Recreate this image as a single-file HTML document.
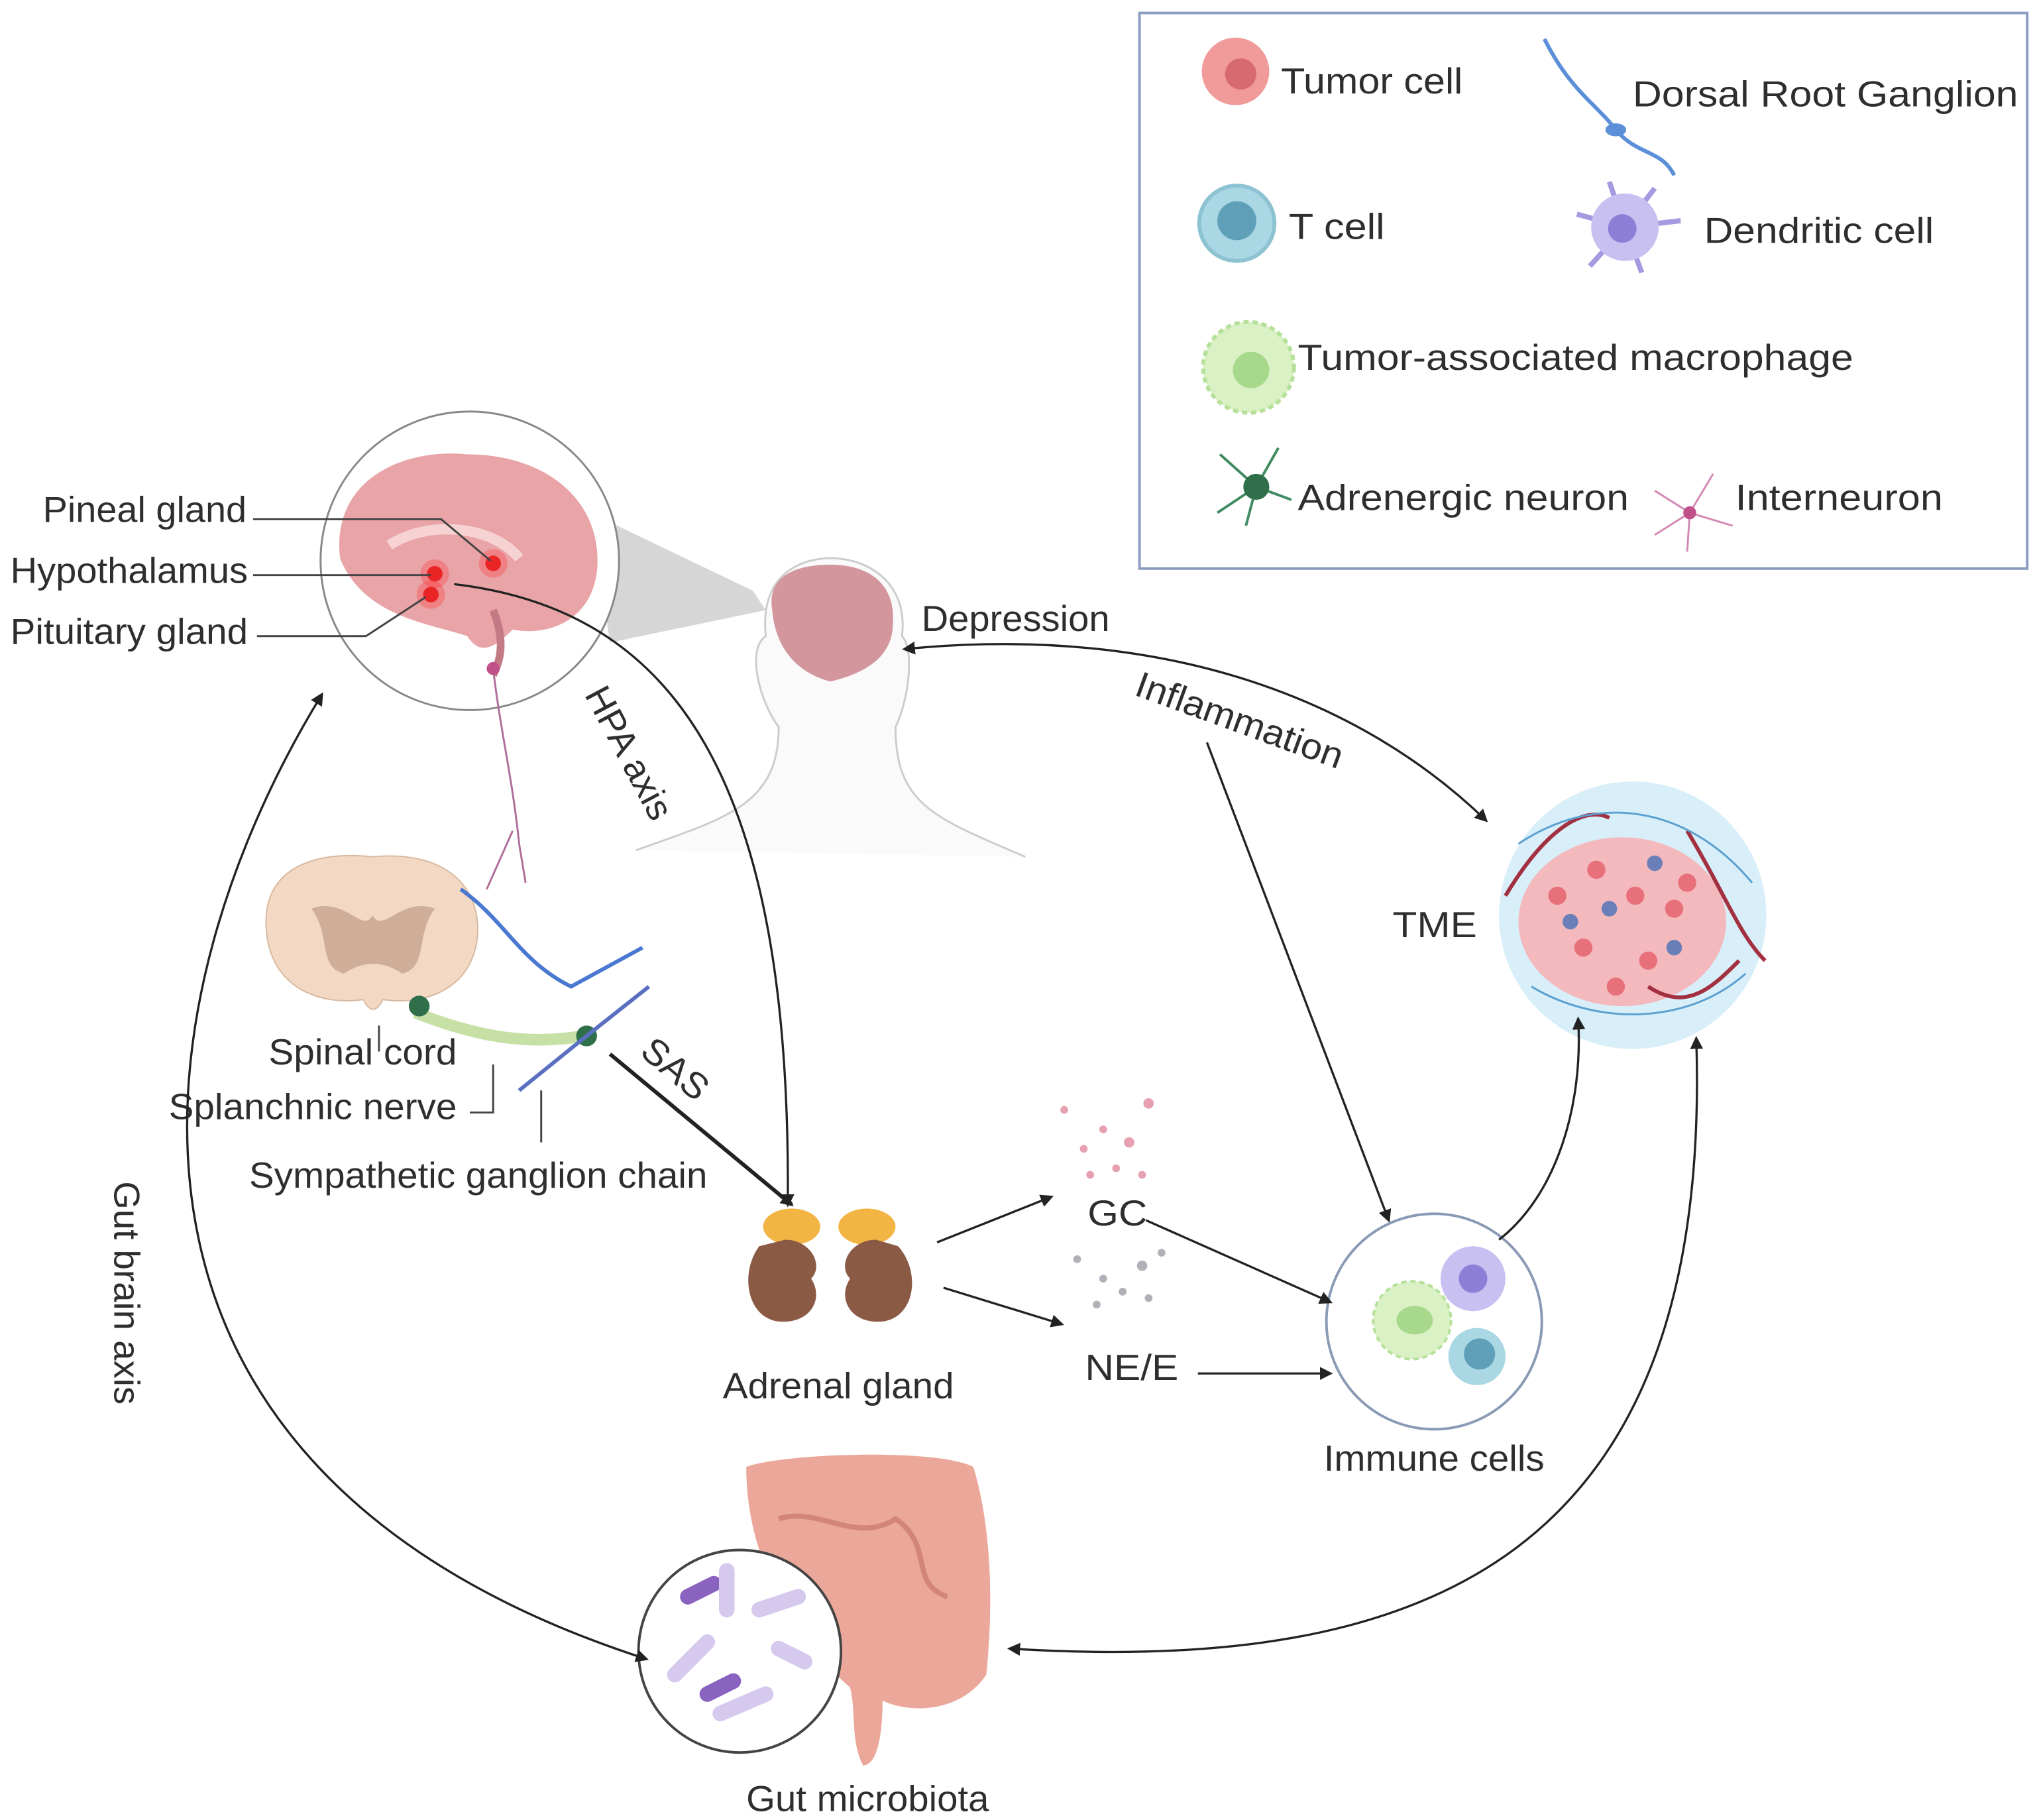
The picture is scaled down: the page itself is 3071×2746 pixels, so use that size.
<!DOCTYPE html>
<html><head><meta charset="utf-8"><style>
html,body{margin:0;padding:0;background:#fff;}
svg{display:block;}
text{font-family:"Liberation Sans",sans-serif;fill:#2e2e2e;font-size:28px;}
</style></head><body>
<svg width="3071" height="2746" viewBox="0 0 1568 1402" preserveAspectRatio="none" xmlns="http://www.w3.org/2000/svg">
<defs>
<marker id="ah" markerWidth="10" markerHeight="10" refX="8" refY="5" orient="auto" markerUnits="userSpaceOnUse"><path d="M0,0 L10,5 L0,10 z" fill="#222"/></marker>
<marker id="ahs" markerWidth="10" markerHeight="10" refX="2" refY="5" orient="auto" markerUnits="userSpaceOnUse"><path d="M10,0 L0,5 L10,10 z" fill="#222"/></marker>
</defs>
<rect width="1568" height="1402" fill="#fff"/>
<!-- legend -->
<rect x="878" y="10" width="684" height="428" fill="#fff" stroke="#8c9dc2" stroke-width="2"/>
<circle cx="952" cy="55" r="26" fill="#f19a9a"/><circle cx="956" cy="57" r="12" fill="#d76a70"/>
<text x="987" y="72" textLength="140" lengthAdjust="spacingAndGlyphs">Tumor cell</text>
<path d="M1190 30 C1210 70 1230 80 1245 100 C1262 120 1280 115 1290 135" stroke="#5b8fd8" stroke-width="3" fill="none"/>
<ellipse cx="1245" cy="100" rx="8" ry="5" fill="#5b8fd8"/>
<text x="1258" y="82" textLength="297" lengthAdjust="spacingAndGlyphs">Dorsal Root Ganglion</text>
<circle cx="953" cy="172" r="29" fill="#a9d7e4" stroke="#8cc2d2" stroke-width="3"/><circle cx="953" cy="170" r="15" fill="#5f9fb8"/>
<text x="993" y="184" textLength="74" lengthAdjust="spacingAndGlyphs">T cell</text>
<g stroke="#a59ae0" stroke-width="4"><line x1="1252" y1="175" x2="1215" y2="165"/><line x1="1252" y1="175" x2="1240" y2="140"/><line x1="1252" y1="175" x2="1275" y2="145"/><line x1="1252" y1="175" x2="1295" y2="170"/><line x1="1252" y1="175" x2="1265" y2="210"/><line x1="1252" y1="175" x2="1225" y2="205"/></g>
<circle cx="1252" cy="175" r="26" fill="#c9c0f2"/><circle cx="1250" cy="176" r="11" fill="#8d7fd8"/>
<text x="1313" y="187" textLength="177" lengthAdjust="spacingAndGlyphs">Dendritic cell</text>
<circle cx="962" cy="283" r="35" fill="#d9f1c4" stroke="#b5e09a" stroke-width="3" stroke-dasharray="4 3"/><circle cx="964" cy="285" r="14" fill="#a8d88c"/>
<text x="1000" y="285" textLength="428" lengthAdjust="spacingAndGlyphs">Tumor-associated macrophage</text>
<g stroke="#3f8a60" stroke-width="2"><line x1="968" y1="375" x2="940" y2="350"/><line x1="968" y1="375" x2="985" y2="345"/><line x1="968" y1="375" x2="995" y2="385"/><line x1="968" y1="375" x2="960" y2="405"/><line x1="968" y1="375" x2="938" y2="395"/></g>
<circle cx="968" cy="375" r="10" fill="#2f6f4a"/>
<text x="1000" y="393" textLength="255" lengthAdjust="spacingAndGlyphs">Adrenergic neuron</text>
<g stroke="#d488b4" stroke-width="1.5"><line x1="1302" y1="395" x2="1275" y2="378"/><line x1="1302" y1="395" x2="1320" y2="365"/><line x1="1302" y1="395" x2="1335" y2="405"/><line x1="1302" y1="395" x2="1300" y2="425"/><line x1="1302" y1="395" x2="1275" y2="412"/></g>
<circle cx="1302" cy="395" r="5" fill="#c0508a"/>
<text x="1337" y="393" textLength="160" lengthAdjust="spacingAndGlyphs">Interneuron</text>
<!-- triangle -->
<polygon points="455,395 470,495 590,470 580,455" fill="#d6d6d6"/>
<!-- brain circle -->
<circle cx="362" cy="432" r="115" fill="#fff" stroke="#888" stroke-width="1.5"/>
<path d="M262 430 C255 370 310 345 360 350 C420 350 465 385 460 440 C455 480 420 490 395 485 C380 500 370 505 360 490 C330 480 280 475 262 430z" fill="#e9a4a8"/>
<path d="M300 420 C330 400 380 405 400 430" stroke="#f6d2d3" stroke-width="8" fill="none"/>
<path d="M380 470 C390 495 385 510 380 520" stroke="#c47a84" stroke-width="6" fill="none"/>
<circle cx="380" cy="434" r="6" fill="#e02020"/><circle cx="380" cy="434" r="11" fill="#ff3030" opacity="0.3"/>
<circle cx="335" cy="442" r="6" fill="#e02020"/><circle cx="335" cy="442" r="11" fill="#ff3030" opacity="0.3"/>
<circle cx="332" cy="458" r="6" fill="#e02020"/><circle cx="332" cy="458" r="11" fill="#ff3030" opacity="0.3"/>
<path d="M380 515 C385 560 395 600 400 650 M395 640 L375 685 M400 650 L405 680" stroke="#b06d9a" stroke-width="1.5" fill="none"/>
<circle cx="380" cy="515" r="5" fill="#c0508a"/>
<text x="33" y="402" textLength="157" lengthAdjust="spacingAndGlyphs">Pineal gland</text>
<text x="8" y="449" textLength="183" lengthAdjust="spacingAndGlyphs">Hypothalamus</text>
<text x="8" y="496" textLength="183" lengthAdjust="spacingAndGlyphs">Pituitary gland</text>
<g stroke="#444" stroke-width="1.5" fill="none">
<path d="M195 400 L340 400 L378 432"/>
<path d="M195 443 L332 443"/>
<path d="M198 490 L282 490 L328 460"/>
</g>
<!-- head -->
<path d="M490 655 C560 630 600 620 600 560 C585 540 575 500 590 490 C585 440 620 430 640 430 C670 430 700 450 695 490 C705 500 700 540 690 560 C690 620 720 630 790 660" fill="#fafafa" stroke="#ccc" stroke-width="1.5"/>
<path d="M595 470 C590 440 620 435 640 435 C670 435 690 450 688 480 C688 510 660 520 640 525 C620 520 598 505 595 470z" fill="#d3969d"/>
<text x="710" y="486" textLength="145" lengthAdjust="spacingAndGlyphs">Depression</text>
<text x="873" y="535" transform="rotate(20 873 535)" textLength="168" lengthAdjust="spacingAndGlyphs">Inflammation</text>
<!-- TME -->
<circle cx="1258" cy="705" r="103" fill="#d8eef8"/>
<ellipse cx="1250" cy="710" rx="80" ry="65" fill="#f3b9bd"/>
<g fill="#e7707a"><circle cx="1200" cy="690" r="7"/><circle cx="1230" cy="670" r="7"/><circle cx="1260" cy="690" r="7"/><circle cx="1290" cy="700" r="7"/><circle cx="1220" cy="730" r="7"/><circle cx="1270" cy="740" r="7"/><circle cx="1300" cy="680" r="7"/><circle cx="1245" cy="760" r="7"/></g>
<g fill="#6a7fb8"><circle cx="1240" cy="700" r="6"/><circle cx="1275" cy="665" r="6"/><circle cx="1210" cy="710" r="6"/><circle cx="1290" cy="730" r="6"/></g>
<g stroke="#a33040" stroke-width="3" fill="none"><path d="M1160 690 C1190 640 1220 620 1240 630"/><path d="M1300 640 C1330 690 1340 720 1360 740"/><path d="M1270 760 C1300 780 1320 760 1340 740"/></g>
<g stroke="#5aa0d0" stroke-width="1.5" fill="none"><path d="M1170 650 C1230 610 1300 620 1350 680"/><path d="M1180 760 C1230 790 1300 790 1345 750"/></g>
<text x="1073" y="722" textLength="65" lengthAdjust="spacingAndGlyphs">TME</text>
<!-- spinal cord -->
<path d="M205 710 C205 670 240 655 287 660 C340 655 370 680 368 720 C365 760 330 775 295 770 C290 780 285 780 280 770 C245 775 205 760 205 710z" fill="#f3d8c3" stroke="#d8b9a0"/>
<path d="M240 700 C265 690 280 720 287 705 C295 720 310 690 335 700 C320 720 330 745 310 750 C295 740 280 740 265 750 C245 745 255 720 240 700z" fill="#cfae99"/>
<path d="M355 685 C390 710 400 740 440 760 L495 730" stroke="#4a78d0" stroke-width="3" fill="none"/>
<path d="M320 780 C370 800 410 805 450 798" stroke="#c6e0a6" stroke-width="9" fill="none"/>
<circle cx="323" cy="775" r="8" fill="#2f6f4a"/><circle cx="452" cy="798" r="8" fill="#2f6f4a"/>
<path d="M452 798 L500 760 M452 798 L400 840" stroke="#5a6fc0" stroke-width="3" fill="none"/>
<text x="207" y="820" textLength="145" lengthAdjust="spacingAndGlyphs">Spinal cord</text>
<text x="130" y="862" textLength="222" lengthAdjust="spacingAndGlyphs">Splanchnic nerve</text>
<text x="192" y="915" textLength="353" lengthAdjust="spacingAndGlyphs">Sympathetic ganglion chain</text>
<path d="M292 790 L292 810 M380 820 L380 857 L362 857 M417 840 L417 880" stroke="#444" stroke-width="1.5" fill="none"/>
<text x="450" y="535" transform="rotate(62 450 535)" textLength="112" lengthAdjust="spacingAndGlyphs">HPA axis</text>
<text x="492" y="812" transform="rotate(40 492 812)" textLength="58" lengthAdjust="spacingAndGlyphs">SAS</text>
<!-- kidneys -->
<ellipse cx="610" cy="945" rx="22" ry="14" fill="#f2b544"/><ellipse cx="668" cy="945" rx="22" ry="14" fill="#f2b544"/>
<path d="M585 960 C570 980 575 1015 600 1018 C625 1020 635 1000 625 985 C635 975 625 955 605 955z" fill="#8a5a45"/>
<path d="M692 960 C710 980 705 1015 680 1018 C655 1020 645 1000 655 985 C645 975 655 955 675 955z" fill="#8a5a45"/>
<text x="557" y="1077" textLength="178" lengthAdjust="spacingAndGlyphs">Adrenal gland</text>
<g fill="#e6a0b0"><circle cx="820" cy="855" r="3"/><circle cx="850" cy="870" r="3"/><circle cx="835" cy="885" r="3"/><circle cx="870" cy="880" r="4"/><circle cx="885" cy="850" r="4"/><circle cx="860" cy="900" r="3"/><circle cx="840" cy="905" r="3"/><circle cx="880" cy="905" r="3"/></g>
<g fill="#b0b0b8"><circle cx="830" cy="970" r="3"/><circle cx="850" cy="985" r="3"/><circle cx="880" cy="975" r="4"/><circle cx="895" cy="965" r="3"/><circle cx="865" cy="995" r="3"/><circle cx="845" cy="1005" r="3"/><circle cx="885" cy="1000" r="3"/></g>
<text x="838" y="944" textLength="46" lengthAdjust="spacingAndGlyphs">GC</text>
<text x="836" y="1063" textLength="72" lengthAdjust="spacingAndGlyphs">NE/E</text>
<!-- immune -->
<circle cx="1105" cy="1018" r="83" fill="#fff" stroke="#8a9ab5" stroke-width="2"/>
<circle cx="1088" cy="1017" r="30" fill="#d9f1c4" stroke="#b5e09a" stroke-width="2" stroke-dasharray="4 3"/><ellipse cx="1090" cy="1017" rx="14" ry="11" fill="#a8d88c"/>
<circle cx="1135" cy="985" r="25" fill="#c9c0f2"/><circle cx="1135" cy="985" r="11" fill="#8d7fd8"/>
<circle cx="1138" cy="1045" r="22" fill="#a9d7e4"/><circle cx="1140" cy="1043" r="12" fill="#5f9fb8"/>
<text x="1020" y="1133" textLength="170" lengthAdjust="spacingAndGlyphs">Immune cells</text>
<!-- gut -->
<path d="M575 1130 C600 1120 720 1115 750 1130 C765 1180 765 1240 760 1290 C740 1320 700 1320 680 1310 C680 1340 675 1360 665 1360 C655 1340 660 1320 655 1300 C610 1260 575 1200 575 1130z" fill="#eba89a"/>
<path d="M600 1170 C630 1160 660 1190 690 1170 C720 1190 700 1220 730 1230" stroke="#d4857a" stroke-width="4" fill="none"/>
<circle cx="570" cy="1272" r="78" fill="#fff" stroke="#444" stroke-width="2"/>
<g stroke-linecap="round" stroke-width="12"><line x1="520" y1="1290" x2="545" y2="1265" stroke="#d6c9ee"/><line x1="555" y1="1320" x2="590" y2="1305" stroke="#d6c9ee"/><line x1="545" y1="1305" x2="565" y2="1295" stroke="#8a62c0"/><line x1="585" y1="1240" x2="615" y2="1230" stroke="#d6c9ee"/><line x1="530" y1="1230" x2="550" y2="1220" stroke="#8a62c0"/><line x1="560" y1="1210" x2="560" y2="1240" stroke="#d6c9ee"/><line x1="600" y1="1270" x2="620" y2="1280" stroke="#d6c9ee"/></g>
<text x="575" y="1395" textLength="187" lengthAdjust="spacingAndGlyphs">Gut microbiota</text>
<text x="88" y="910" transform="rotate(90 88 910)" textLength="172" lengthAdjust="spacingAndGlyphs">Gut brain axis</text>
<!-- arrows -->
<g stroke="#222" stroke-width="1.7" fill="none">
<path d="M248 535 C110 760 40 1130 498 1278" marker-start="url(#ahs)" marker-end="url(#ah)"/>
<path d="M697 500 C900 480 1050 540 1145 632" marker-start="url(#ahs)" marker-end="url(#ah)"/>
<path d="M930 572 L1070 940" marker-end="url(#ah)"/>
<path d="M350 450 C520 470 610 600 607 928" marker-end="url(#ah)"/>
<path d="M470 812 L610 928" stroke-width="3" marker-end="url(#ah)"/>
<path d="M722 957 L810 922" marker-end="url(#ah)"/>
<path d="M727 992 L818 1020" marker-end="url(#ah)"/>
<path d="M883 940 L1025 1003" marker-end="url(#ah)"/>
<path d="M923 1058 L1025 1058" marker-end="url(#ah)"/>
<path d="M1155 955 C1200 920 1220 850 1216 785" marker-end="url(#ah)"/>
<path d="M778 1270 C1100 1290 1320 1200 1307 800" marker-start="url(#ahs)" marker-end="url(#ah)"/>
</g>
</svg>
</body></html>
